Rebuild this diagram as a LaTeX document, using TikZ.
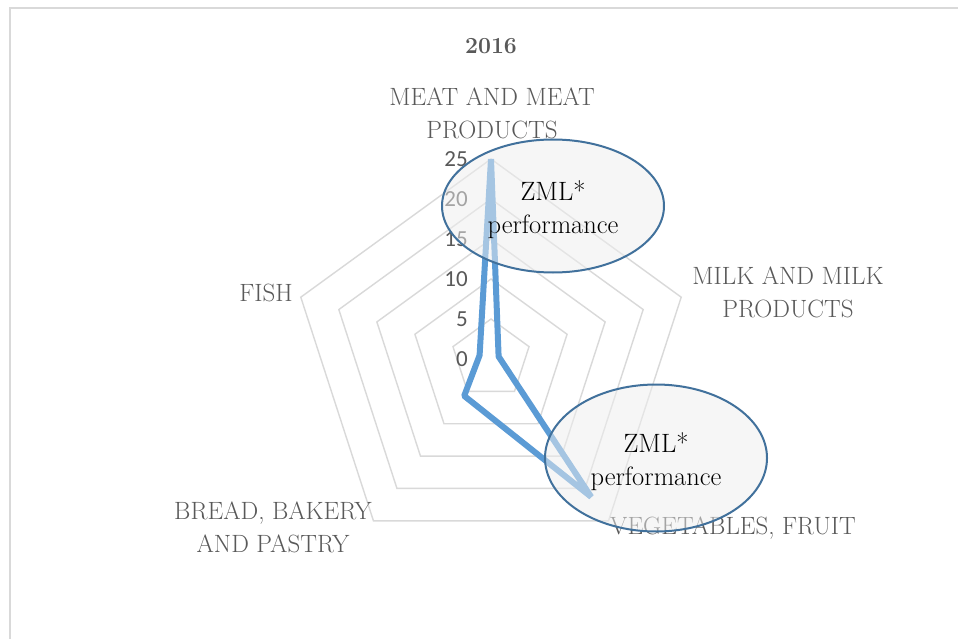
\documentclass[tikz,border=0pt]{standalone}
\usepackage{fontspec}
\newfontfamily\numfont{Carlito}
\usetikzlibrary{shapes.geometric}
\definecolor{gridgray}{HTML}{D9D9D9}
\definecolor{labelgray}{HTML}{595959}
\definecolor{serblue}{HTML}{5B9BD5}
\definecolor{ellblue}{HTML}{41719C}
\definecolor{ellfill}{HTML}{EFEFEF}
\tikzset{
  frameline/.style={draw=gridgray, line width=2pt},
  gridline/.style={draw=gridgray, line width=1.4pt, line join=miter},
  dataline/.style={draw=serblue, line width=6pt, line join=bevel},
  numlbl/.style={font=\numfont\fontsize{23}{26}\selectfont, text=labelgray, inner sep=0pt, anchor=east},
  catlbl/.style={font=\fontsize{25}{33}\selectfont, text=labelgray, inner sep=0pt, align=center},
  callout/.style={ellipse, draw=ellblue, line width=2pt, fill=ellfill, fill opacity=0.5,
    text opacity=1, draw opacity=1, minimum width=222pt, inner sep=0pt,
    font=\fontsize{26.5}{33}\selectfont, text=black, align=center}
}
\begin{document}
\begin{tikzpicture}[x=1pt,y=-1pt]
\useasboundingbox (0,0) rectangle (958,639);
\fill[white] (0,0) rectangle (958,639);
% frame
\draw[frameline] (10,639) -- (10,8) -- (958,8);
% title
\node[font=\bfseries\fontsize{23}{26}\selectfont, text=labelgray, inner sep=0pt] (title) at (491,46) {2016};
% grid and data
\begin{scope}[shift={(491,359)}, y=1pt]
  \coordinate (c) at (0,0);
  \foreach \r in {40,80,120,160,200}
    \draw[gridline] (90:\r) -- (18:\r) -- (-54:\r) -- (-126:\r) -- (162:\r) -- cycle;
  \coordinate (meat) at (90:200);
  \coordinate (milk) at (18:8);
  \coordinate (veg) at (-54:170.4);
  \coordinate (bread) at (-126:45.6);
  \coordinate (fish) at (162:12);
  \draw[dataline] (meat) -- (milk) -- (veg) -- (bread) -- (fish) -- cycle;
\end{scope}
% value labels
\foreach \v in {0,5,10,15,20,25}
  \node[numlbl] (n\v) at (468,{359-8*\v}) {\v};
% category labels
\node[catlbl] (lmeat) at (492,113) {MEAT AND MEAT\\PRODUCTS};
\node[catlbl] (lmilk) at (788,292) {MILK AND MILK\\PRODUCTS};
\node[catlbl] (lveg) at (733,528) {VEGETABLES, FRUIT};
\node[catlbl] (lbread) at (273,527) {BREAD, BAKERY\\AND PASTRY};
\node[catlbl] (lfish) at (266,293) {FISH};
% callouts
\node[callout, minimum height=133pt] (e1) at (553,206) {\rule{0pt}{28pt}ZML*\\performance};
\node[callout, minimum height=147pt] (e2) at (656,458) {\rule{0pt}{28pt}ZML*\\performance};
\end{tikzpicture}
\end{document}
